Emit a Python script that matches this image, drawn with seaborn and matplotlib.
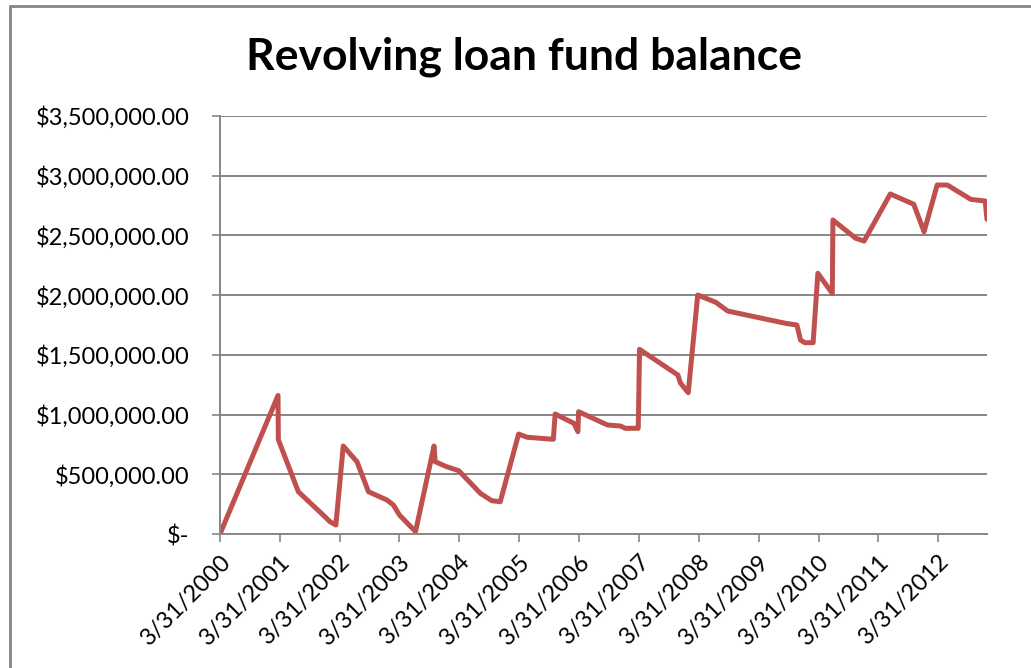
import matplotlib
matplotlib.use("Agg")
import matplotlib.pyplot as plt
from matplotlib.lines import Line2D
import seaborn as sns
import pandas as pd

dates = [
    "2000-03-31", "2001-03-20", "2001-03-22", "2001-07-22", "2001-12-31",
    "2002-01-31", "2002-03-08", "2002-04-22", "2002-07-15", "2002-09-23",
    "2003-01-13", "2003-02-22", "2003-03-31", "2003-07-07", "2003-10-28",
    "2003-11-04", "2004-01-12", "2004-03-27", "2004-08-06", "2004-10-14",
    "2004-12-05", "2005-03-27", "2005-05-18", "2005-10-25", "2005-11-05",
    "2005-12-27", "2006-02-27", "2006-03-24", "2006-03-28", "2006-09-20",
    "2006-12-09", "2007-01-07", "2007-03-27", "2007-04-04", "2007-11-24",
    "2007-12-09", "2008-01-26", "2008-03-24", "2008-07-12", "2008-09-23",
    "2009-09-11", "2009-11-19", "2009-12-11", "2010-01-06", "2010-02-26",
    "2010-03-27", "2010-06-23", "2010-06-27", "2010-11-13", "2011-01-03",
    "2011-06-12", "2011-11-02", "2012-01-04", "2012-03-24", "2012-05-25",
    "2012-10-15", "2013-01-11", "2013-01-22",
]
balances = [
    0, 1160000, 790000, 354000, 145000,
    103000, 75000, 737000, 605000, 354000,
    285000, 243000, 159000, 20000, 737000,
    605000, 564000, 530000, 340000, 279000,
    270000, 837000, 810000, 793000, 1005000,
    969000, 927000, 857000, 1024000, 913000,
    904000, 885000, 885000, 1546000, 1331000,
    1265000, 1183000, 2001000, 1940000, 1867000,
    1764000, 1750000, 1624000, 1602000, 1602000,
    2183000, 2015000, 2629000, 2476000, 2453000,
    2847000, 2761000, 2531000, 2922000, 2922000,
    2802000, 2788000, 2635000,
]
tick_dates = [f"{y}-03-31" for y in range(2000, 2013)]
tick_labels = [f"3/31/{y}" for y in range(2000, 2013)]
y_ticks = [0, 500000, 1000000, 1500000, 2000000, 2500000, 3000000, 3500000]
y_labels = ["$-", "$500,000.00", "$1,000,000.00", "$1,500,000.00", "$2,000,000.00",
            "$2,500,000.00", "$3,000,000.00", "$3,500,000.00"]
title = "Revolving loan fund balance"

df = pd.DataFrame({"date": pd.to_datetime(dates), "balance": balances})

sns.set_theme(style="white")
plt.rcParams["font.family"] = ["Lato", "DejaVu Sans"]

fig = plt.figure(figsize=(10.31, 6.68), dpi=100)
ax = fig.add_axes([220 / 1031, 1 - 534 / 668, (987 - 220) / 1031, (534 - 116) / 668])

sns.lineplot(data=df, x="date", y="balance", ax=ax, sort=False, estimator=None,
             color="#C0504D", linewidth=3.6, solid_joinstyle="round", solid_capstyle="round")

grid_c = "#868686"
ax.set_ylim(0, 3500000)
ax.set_xlim(pd.Timestamp(dates[0]), pd.Timestamp(dates[-1]))
ax.set_yticks(y_ticks)
ax.set_yticklabels(y_labels, fontsize=17, color="black")
ax.set_xticks(pd.to_datetime(tick_dates))
ax.set_xticklabels(tick_labels, fontsize=17, rotation=45, ha="right",
                   rotation_mode="anchor", color="black")
ax.yaxis.grid(True, color=grid_c, linewidth=1.4)
ax.set_axisbelow(True)
for s in ["top", "right"]:
    ax.spines[s].set_visible(False)
for s in ["left", "bottom"]:
    ax.spines[s].set_color(grid_c)
    ax.spines[s].set_linewidth(1.4)
ax.tick_params(axis="both", which="major", length=6, width=1.2, color=grid_c,
               direction="out", left=True, bottom=True)
ax.tick_params(axis="y", pad=16)
ax.tick_params(axis="x", pad=6)
ax.set_xlabel("")
ax.set_ylabel("")

fig.text(524 / 1031, 1 - 57 / 668, title, ha="center", va="center",
         fontsize=32, fontweight="bold", color="black")

# chart area border (left and top)
fig.add_artist(Line2D([9.5 / 1031, 9.5 / 1031], [0, 1 - 5.5 / 668], transform=fig.transFigure,
                      color="#868686", linewidth=2))
fig.add_artist(Line2D([9.5 / 1031, 1], [1 - 5.5 / 668, 1 - 5.5 / 668], transform=fig.transFigure,
                      color="#868686", linewidth=2))

fig.savefig("out.png", dpi=100, facecolor="white")
